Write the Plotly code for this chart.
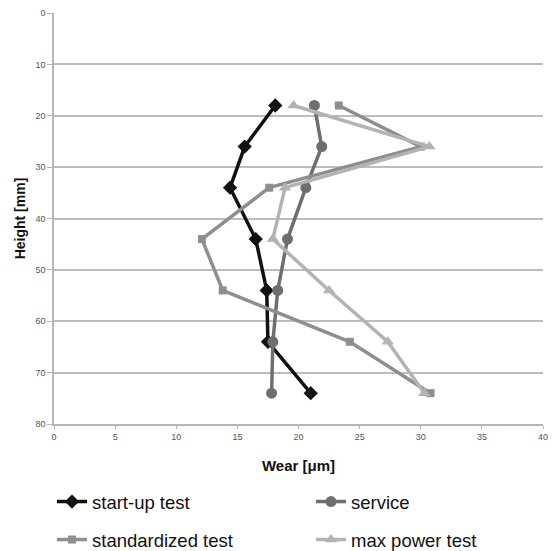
import plotly.graph_objects as go

heights = [18, 26, 34, 44, 54, 64, 74]
startup = [18.1, 15.6, 14.4, 16.5, 17.4, 17.5, 21.0]
service = [21.3, 21.9, 20.6, 19.1, 18.3, 17.9, 17.8]
standardized = [23.3, 30.0, 17.6, 12.1, 13.8, 24.2, 30.8]
maxpower = [19.6, 30.7, 18.9, 17.9, 22.5, 27.3, 30.3]

series = [
    ("start-up test", startup, "#111111", "diamond", 11, "legend", 52, 502),
    ("service", service, "#6e6e6e", "circle", 11, "legend2", 311, 502),
    ("standardized test", standardized, "#8e8e8e", "square", 8, "legend3", 52, 540),
    ("max power test", maxpower, "#b3b3b3", "triangle-up", 11, "legend4", 311, 540),
]

fig = go.Figure()
legends = {}
for name, vals, color, sym, msize, lg, lx, ly in series:
    fig.add_trace(go.Scatter(
        x=vals, y=heights, name=name, mode="lines+markers",
        line=dict(color=color, width=3.5),
        marker=dict(symbol=sym, size=msize, color=color),
        legend=lg, showlegend=True,
    ))
    legends[lg] = dict(
        orientation="h", xref="container", yref="container",
        xanchor="left", yanchor="middle",
        x=lx / 552, y=1 - ly / 551,
        font=dict(family="Liberation Sans, Arial", size=18.5, color="#111111"),
        bgcolor="rgba(0,0,0,0)",
    )

fig.update_layout(
    width=552, height=551, showlegend=True,
    margin=dict(l=54, r=9, t=13, b=127, autoexpand=False),
    paper_bgcolor="white", plot_bgcolor="white",
    font=dict(family="Liberation Sans, Arial", color="#555555"),
    xaxis=dict(
        range=[0, 40], dtick=5, showgrid=False, zeroline=False,
        showline=True, linecolor="#b5b5b5", linewidth=1.5,
        ticks="outside", ticklen=3, tickcolor="#b5b5b5",
        tickfont=dict(size=9, color="#555555"),
        title=dict(text="<b>Wear [μm]</b>", font=dict(size=15, color="#111111"), standoff=20),
    ),
    yaxis=dict(
        range=[80, 0], dtick=10, showgrid=True, gridcolor="#bdbdbd", gridwidth=1.5,
        zeroline=False, showline=True, linecolor="#b5b5b5", linewidth=1.5,
        ticks="outside", ticklen=5, tickcolor="#b5b5b5",
        tickfont=dict(size=9, color="#555555"),
        title=dict(text="<b>Height [mm]</b>", font=dict(size=14, color="#111111"), standoff=7),
    ),
    **legends,
)

fig.write_html("out.html")
